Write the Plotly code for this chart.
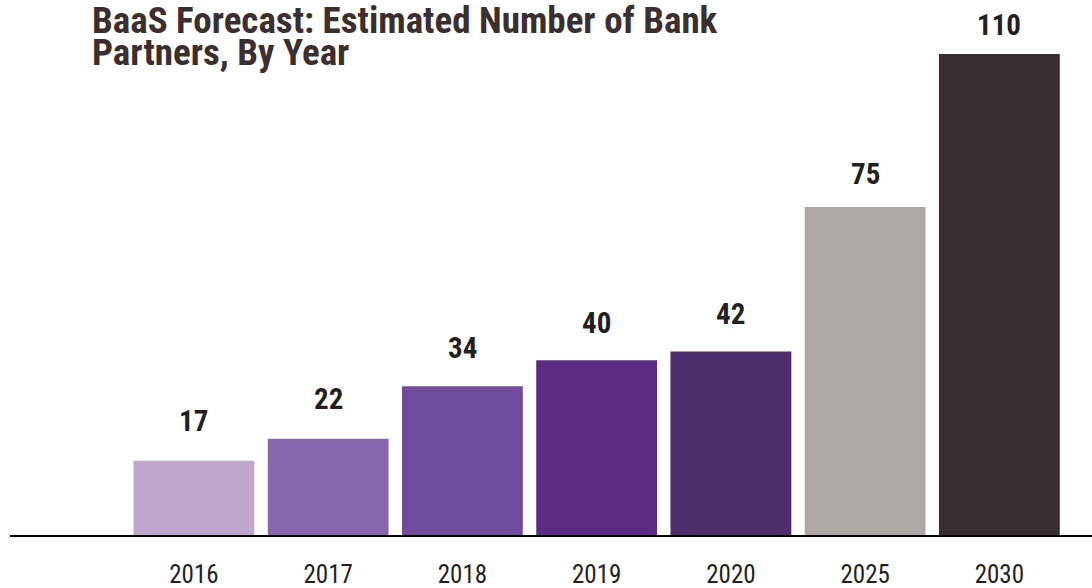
import plotly.graph_objects as go

years = ["2016", "2017", "2018", "2019", "2020", "2025", "2030"]
partners = [17, 22, 34, 40, 42, 75, 110]
bar_colors = ["#C0A6CC", "#8766AC", "#714C9C", "#5B2D82", "#4F2C6B", "#B0A8A4", "#382E2D"]
title_lines = ["BaaS Forecast: Estimated Number of Bank", "Partners, By Year"]

FONT = "Roboto Condensed, Liberation Sans Narrow, DejaVu Sans Condensed, Roboto, sans-serif"

PLOT_TOP, PLOT_BOTTOM = 20, 535
PLOT_H = PLOT_BOTTOM - PLOT_TOP

def paper_y(px):
    return (PLOT_BOTTOM - px) / PLOT_H

fig = go.Figure()
fig.add_trace(go.Bar(
    x=list(range(len(years))), y=partners,
    marker=dict(color=bar_colors, line=dict(width=0)),
    hoverinfo="skip",
))

for i, v in enumerate(partners):
    fig.add_annotation(
        x=i, y=v, xref="x", yref="y", text=str(v), showarrow=False,
        yanchor="bottom", yshift=23 - 0.12 * v,
        font=dict(family=FONT, size=29, color="#231F20", weight="bold"),
    )

for line, cy in zip(title_lines, [21, 52]):
    fig.add_annotation(
        xref="paper", yref="paper",
        x=(90 - 10) / 1082, y=paper_y(cy),
        xanchor="left", yanchor="middle",
        text=line, showarrow=False,
        font=dict(family=FONT, size=37, color="#3A2F2E", weight="bold"),
    )

fig.update_layout(
    width=1092, height=588,
    margin=dict(l=10, r=0, t=PLOT_TOP, b=588 - PLOT_BOTTOM),
    paper_bgcolor="white", plot_bgcolor="white",
    bargap=0.1,
    showlegend=False,
    font=dict(family=FONT, color="#231F20"),
)
fig.update_xaxes(
    range=[-1.37, 6.69],
    tickmode="array", tickvals=list(range(len(years))), ticktext=years,
    showline=True, linecolor="#000000", linewidth=2,
    showgrid=False, zeroline=False, automargin=False,
    ticks="", ticklabelstandoff=16,
    tickfont=dict(family=FONT, size=25, color="#231F20"),
)
fig.update_yaxes(
    range=[0, 117.8], automargin=False,
    showgrid=False, zeroline=False, showticklabels=False, showline=False,
)

fig.write_html("out.html")
